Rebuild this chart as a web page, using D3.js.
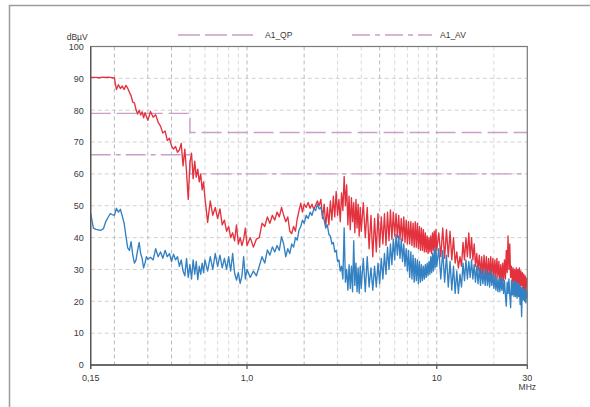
<!DOCTYPE html>
<html>
<head>
<meta charset="utf-8">
<script src="https://d3js.org/d3.v7.min.js"></script>
<style>
	body{ margin:0; background:#fff; }
	text{ font-family: "Liberation Sans", Arial, sans-serif; fill:#3a3a3a; }
	.grid{ fill:none; stroke-dasharray:4,3; stroke-width:0.8; }
	.trace{ fill:none; stroke-width:1.35; stroke-linejoin:round; }
</style>
</head>
<body>
<script>
	// sweep frequencies (MHz)
	var freqs = [
		0.150,0.155,0.160,0.165,0.170,0.175,0.180,0.185,0.190,0.195,0.200,0.205,0.210,0.215,0.220,0.225,0.230,0.235,0.240,0.245,0.250,0.255,0.260,0.265,0.270,0.275,0.280,0.285,0.290,0.295,0.300,
		0.31,0.32,0.33,0.34,0.35,0.36,0.37,0.38,0.39,0.40,0.41,0.42,0.43,0.44,0.45,0.46,0.47,0.48,0.49,0.50,0.51,0.52,0.53,0.54,0.55,0.56,0.57,0.58,0.59,0.60,
		0.62,0.64,0.66,0.68,0.70,0.72,0.74,0.76,0.78,0.80,0.82,0.84,0.86,0.88,0.90,0.92,0.94,0.96,0.98,1.00,
		1.04,1.08,1.12,1.16,1.20,1.24,1.28,1.32,1.36,1.40,1.44,1.48,1.52,1.56,1.60,1.64,1.68,1.72,1.76,1.80,1.84,1.88,1.92,1.96,2.00,
		2.05,2.10,2.15,2.20,2.25,2.30,2.35,2.40,2.45,2.50,2.55,2.60,2.65,2.70,2.75,2.80,2.85,2.90,2.95,3.00,
		3.05,3.10,3.15,3.20,3.25,3.30,3.35,3.40,3.45,3.50,3.55,3.60,3.65,3.70,3.75,3.80,3.85,3.90,3.95,4.00,
		4.1,4.2,4.3,4.4,4.5,4.6,4.7,4.8,4.9,5.0,5.1,5.2,5.3,5.4,5.5,5.6,5.7,5.8,5.9,6.0,
		6.1,6.2,6.3,6.4,6.5,6.6,6.7,6.8,6.9,7.0,7.1,7.2,7.3,7.4,7.5,7.6,7.7,7.8,7.9,8.0,
		8.1,8.2,8.3,8.4,8.5,8.6,8.7,8.8,8.9,9.0,9.1,9.2,9.3,9.4,9.5,9.6,9.7,9.8,9.9,10.0,
		10.25,10.5,10.75,11.0,11.25,11.5,11.75,12.0,12.25,12.5,12.75,13.0,13.25,13.5,13.75,14.0,14.25,14.5,14.75,15.0,
		15.25,15.5,15.75,16.0,16.25,16.5,16.75,17.0,17.25,17.5,17.75,18.0,18.25,18.5,18.75,19.0,19.25,19.5,19.75,20.0,
		20.25,20.5,20.75,21.0,21.25,21.5,21.75,22.0,22.25,22.5,22.75,23.0,23.25,23.5,23.75,24.0,24.25,24.5,24.75,25.0,
		25.25,25.5,25.75,26.0,26.25,26.5,26.75,27.0,27.25,27.5,27.75,28.0,28.25,28.5,28.75,29.0,29.25,29.5,29.75,30.0
	];

	// red trace (dBµV)
	var peakTrace = [
		90.3,90.3,90.3,90.2,90.3,90.4,90.3,90.4,90.3,90.2,90.1,86.5,88.0,86.8,87.6,86.5,87.8,86.9,85.6,84.5,82.5,82.3,80.2,78.8,80.0,78.5,79.5,77.6,79.2,78.0,76.8,
		79.6,77.8,78.6,76.2,75.0,72.8,73.5,70.5,71.2,68.8,67.8,68.6,66.8,67.5,69.6,62.5,67.8,60.5,52.0,63.5,66.5,58.5,64.0,59.0,61.5,57.5,60.0,55.0,57.5,52.5,
		44.8,51.5,47.0,49.5,46.0,49.0,44.0,45.5,42.0,43.5,40.0,41.5,39.0,44.0,38.0,40.0,37.5,39.5,43.0,37.5,
		40.0,37.0,39.5,40.0,44.5,43.5,46.5,44.5,47.0,45.5,48.0,46.5,49.5,47.0,45.0,46.5,42.0,41.3,43.5,42.0,46.0,48.5,50.8,48.0,50.5,
		49.5,51.0,49.2,50.5,48.8,50.2,51.5,50.0,52.0,46.0,50.5,43.5,49.5,44.0,51.5,45.5,53.0,46.5,54.5,47.0,
		52.0,45.0,54.0,48.5,59.2,50.0,56.5,44.0,53.0,42.5,52.5,45.0,51.0,41.5,52.0,43.0,50.5,40.5,49.5,42.0,
		51.0,40.0,49.5,36.5,47.0,34.0,46.0,35.5,47.5,37.0,46.5,38.0,47.5,37.5,48.0,39.0,48.7,39.5,48.0,40.5,
		47.5,40.0,47.0,39.5,46.0,39.0,46.5,38.5,45.5,38.0,45.0,38.0,45.0,37.5,44.5,37.0,45.0,37.0,44.5,36.5,
		43.5,36.0,43.0,36.0,42.5,35.5,41.5,35.5,40.5,35.0,40.0,35.5,40.5,35.0,41.5,36.0,42.0,35.5,42.5,36.0,
		41.5,34.0,43.0,33.5,42.5,34.0,42.0,33.0,40.0,32.0,35.5,30.5,34.0,31.0,38.5,33.0,40.0,34.0,41.5,33.5,
		40.0,33.0,38.0,31.0,35.0,29.5,34.5,28.5,34.0,28.0,34.5,28.0,34.0,27.5,33.5,28.0,34.0,27.5,33.5,27.5,
		33.0,27.0,33.5,27.5,32.5,26.5,31.5,26.0,32.0,26.5,33.0,27.0,36.0,29.0,40.5,30.0,38.0,27.5,31.0,26.0,
		30.5,25.5,30.0,25.0,30.5,25.5,30.0,25.0,30.5,24.5,29.5,25.0,29.0,24.0,28.5,23.0,28.0,22.0,27.0,27.5
	];

	// blue trace (dBµV)
	var avgTrace = [
		47.6,43.0,42.6,42.4,42.3,42.8,45.0,46.3,47.5,47.2,47.0,49.2,48.0,48.9,46.8,44.5,40.5,36.8,36.0,38.7,34.5,32.0,33.0,36.0,38.5,35.0,33.5,30.5,32.0,34.0,33.2,
		33.8,33.0,36.5,34.0,35.5,33.5,36.0,34.0,35.0,32.5,34.8,33.0,34.0,31.0,33.0,29.5,28.0,33.5,27.5,31.5,27.0,33.0,28.5,32.5,26.8,31.0,28.5,32.0,29.0,33.0,
		29.5,34.0,30.0,35.0,31.0,34.5,30.5,33.5,30.0,34.0,29.5,35.0,28.8,26.7,29.0,25.6,28.0,34.0,27.0,30.0,
		27.5,29.5,28.0,31.0,34.0,32.0,36.1,34.5,37.1,35.5,37.5,36.0,40.3,38.0,34.0,36.5,35.0,38.0,37.0,40.0,39.2,42.4,43.5,45.5,44.5,
		47.0,46.0,48.0,47.0,49.0,48.5,50.5,49.0,49.5,47.0,45.5,43.0,44.0,41.0,40.5,38.0,38.5,35.5,36.0,32.5,
		33.0,29.5,31.0,27.0,43.0,26.0,30.0,23.5,31.5,24.0,31.0,23.0,39.0,25.0,32.0,23.0,30.5,22.5,31.0,24.0,
		33.5,23.0,34.0,24.5,30.5,23.5,31.0,24.5,32.0,25.5,33.5,27.0,35.0,28.5,37.0,30.0,38.0,31.5,39.5,33.0,
		41.0,34.5,40.5,33.5,39.5,32.5,38.0,31.0,36.5,29.5,36.0,27.5,35.5,27.0,34.5,26.0,33.5,26.5,33.0,25.5,
		32.5,26.0,31.5,26.5,31.0,27.0,31.5,27.5,32.0,28.0,32.5,28.5,34.0,29.0,35.0,29.5,36.0,30.5,37.0,31.0,
		36.5,27.0,36.0,26.0,34.5,24.5,32.5,23.5,31.0,22.5,29.5,22.5,28.5,24.5,32.0,26.5,33.0,27.0,32.5,27.5,
		33.0,27.0,31.5,26.0,31.0,25.5,30.5,25.0,30.0,25.5,29.5,25.0,30.0,25.0,29.0,24.5,29.5,25.0,28.5,24.0,
		28.0,23.5,27.5,23.0,27.0,23.0,27.5,23.5,27.0,22.5,26.5,22.0,18.5,26.0,22.5,27.0,22.0,18.0,26.5,22.0,
		26.0,21.5,26.5,21.5,26.0,21.0,25.5,21.5,25.5,19.0,24.5,15.2,24.5,20.5,24.0,20.0,23.5,19.5,23.5,21.0
	];

	// limit lines
	var limitFreqs = [0.15, 0.5, 0.5, 30];
	var qpLimit = [79, 79, 73, 73];
	var avLimit = [66, 66, 60, 60];

	// axis labels
	var yTicks = [0, 10, 20, 30, 40, 50, 60, 70, 80, 90, 100];
	var xTicks = [0.15, 1, 10, 30];
	var xTickLabels = ["0,15", "1,0", "10", "30"];
	var darkGrid = [0.2, 0.3, 0.4, 1, 2, 5, 10];
	var lightGrid = [0.5, 0.6, 0.7, 0.8, 0.9, 3, 4, 6, 7, 8, 9, 20];
	var legendNames = ["A1_QP", "A1_AV"];

	var width = 590, height = 407;
	var plotL = 90.7, plotR = 527.3, plotT = 46.5, plotB = 365;

	var svg = d3.select("body").append("svg")
				.attr("width", width).attr("height", height);

	// outer frame
	svg.append("rect")
		.attr("x", 9.5).attr("y", 5.5)
		.attr("width", 600).attr("height", 420)
		.attr("fill", "none").attr("stroke", "#9c9c9c").attr("stroke-width", 1.5);

	var x = d3.scaleLog().domain([0.15, 30]).range([plotL, plotR]);
	var y = d3.scaleLinear().domain([0, 100]).range([plotB, plotT]);

	// grid
	svg.append("g").selectAll("line")
		.data(yTicks.filter(function(d){ return d > 0 && d < 100; }))
		.enter().append("line").attr("class", "grid")
		.attr("x1", plotL).attr("x2", plotR)
		.attr("y1", function(d){ return y(d); }).attr("y2", function(d){ return y(d); })
		.attr("stroke", "#c4c4c4");

	svg.append("g").selectAll("line")
		.data(lightGrid)
		.enter().append("line").attr("class", "grid")
		.attr("x1", function(d){ return x(d); }).attr("x2", function(d){ return x(d); })
		.attr("y1", plotT).attr("y2", plotB)
		.attr("stroke", "#cfcfcf");

	svg.append("g").selectAll("line")
		.data(darkGrid)
		.enter().append("line").attr("class", "grid")
		.attr("x1", function(d){ return x(d); }).attr("x2", function(d){ return x(d); })
		.attr("y1", plotT).attr("y2", plotB)
		.attr("stroke", "#a8a8a8");

	// limits
	var limitLine = d3.line()
		.x(function(d){ return x(d[0]); })
		.y(function(d){ return y(d[1]); });

	svg.append("path")
		.attr("d", limitLine(d3.zip(limitFreqs, qpLimit)))
		.attr("fill", "none").attr("stroke", "#c99ec8").attr("stroke-width", 1.4)
		.attr("stroke-dasharray", "20,6");

	svg.append("path")
		.attr("d", limitLine(d3.zip(limitFreqs, avLimit)))
		.attr("fill", "none").attr("stroke", "#c99ec8").attr("stroke-width", 1.4)
		.attr("stroke-dasharray", "20,5,5,5");

	// traces
	var traceLine = d3.line()
		.x(function(d){ return x(d[0]); })
		.y(function(d){ return y(d[1]); });

	svg.append("path").attr("class", "trace")
		.attr("d", traceLine(d3.zip(freqs, peakTrace)))
		.attr("stroke", "#e3323e");

	svg.append("path").attr("class", "trace")
		.attr("d", traceLine(d3.zip(freqs, avgTrace)))
		.attr("stroke", "#3380c2");

	// plot frame
	svg.append("rect")
		.attr("x", plotL).attr("y", plotT)
		.attr("width", plotR - plotL).attr("height", plotB - plotT)
		.attr("fill", "none").attr("stroke", "#7a7a7a").attr("stroke-width", 1.2);
	svg.append("line")
		.attr("x1", plotL).attr("x2", plotL).attr("y1", plotT).attr("y2", plotB + 4)
		.attr("stroke", "#555").attr("stroke-width", 1.3);
	svg.append("line")
		.attr("x1", plotL).attr("x2", plotR).attr("y1", plotB).attr("y2", plotB)
		.attr("stroke", "#555").attr("stroke-width", 1.3);

	// x ticks
	svg.append("g").selectAll("line")
		.data(xTicks).enter().append("line")
		.attr("x1", function(d){ return x(d); }).attr("x2", function(d){ return x(d); })
		.attr("y1", plotB).attr("y2", plotB + 4)
		.attr("stroke", "#555").attr("stroke-width", 1.2);

	svg.append("g").selectAll("text")
		.data(xTicks).enter().append("text")
		.attr("x", function(d){ return x(d); })
		.attr("y", plotB + 16)
		.attr("text-anchor", "middle")
		.attr("font-size", "9px")
		.text(function(d, i){ return xTickLabels[i]; });

	svg.append("text")
		.attr("x", x(30)).attr("y", plotB + 25)
		.attr("text-anchor", "middle").attr("font-size", "8.5px")
		.text("MHz");

	// y labels
	svg.append("g").selectAll("text")
		.data(yTicks).enter().append("text")
		.attr("x", plotL - 7)
		.attr("y", function(d){ return y(d) + 3.3; })
		.attr("text-anchor", "end")
		.attr("font-size", "9px")
		.text(function(d){ return d; });

	svg.append("text")
		.attr("x", plotL - 3).attr("y", 40)
		.attr("text-anchor", "end").attr("font-size", "8.5px")
		.text("dBµV");

	// legend
	var legend = svg.append("g");
	legend.append("line")
		.attr("x1", 178).attr("x2", 253).attr("y1", 35).attr("y2", 35)
		.attr("stroke", "#c99ec8").attr("stroke-width", 1.4).attr("stroke-dasharray", "22,5");
	legend.append("text")
		.attr("x", 265).attr("y", 38).attr("font-size", "8.5px")
		.text(legendNames[0]);
	legend.append("line")
		.attr("x1", 352).attr("x2", 432).attr("y1", 35).attr("y2", 35)
		.attr("stroke", "#c99ec8").attr("stroke-width", 1.4).attr("stroke-dasharray", "18,5,5,5");
	legend.append("text")
		.attr("x", 440).attr("y", 38).attr("font-size", "8.5px")
		.text(legendNames[1]);
</script>
</body>
</html>
